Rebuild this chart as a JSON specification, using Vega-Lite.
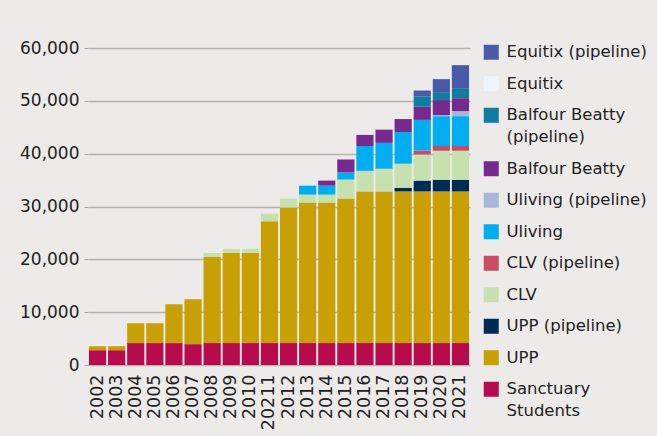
{
  "$schema": "https://vega.github.io/schema/vega-lite/v6.json",
  "autosize": {"type": "none"},
  "width": 382,
  "height": 317,
  "padding": {"left": 88, "top": 48, "right": 187, "bottom": 71},
  "background": "#ECEBE9",
  "config": {"view": {"stroke": null}},
  "data": {"values": [
    {"year": "2002", "company": "Sanctuary Students", "units": 2800},
    {"year": "2003", "company": "Sanctuary Students", "units": 2800},
    {"year": "2004", "company": "Sanctuary Students", "units": 4150},
    {"year": "2005", "company": "Sanctuary Students", "units": 4150},
    {"year": "2006", "company": "Sanctuary Students", "units": 4150},
    {"year": "2007", "company": "Sanctuary Students", "units": 3950},
    {"year": "2008", "company": "Sanctuary Students", "units": 4150},
    {"year": "2009", "company": "Sanctuary Students", "units": 4150},
    {"year": "2010", "company": "Sanctuary Students", "units": 4150},
    {"year": "2011", "company": "Sanctuary Students", "units": 4150},
    {"year": "2012", "company": "Sanctuary Students", "units": 4150},
    {"year": "2013", "company": "Sanctuary Students", "units": 4150},
    {"year": "2014", "company": "Sanctuary Students", "units": 4150},
    {"year": "2015", "company": "Sanctuary Students", "units": 4150},
    {"year": "2016", "company": "Sanctuary Students", "units": 4150},
    {"year": "2017", "company": "Sanctuary Students", "units": 4150},
    {"year": "2018", "company": "Sanctuary Students", "units": 4150},
    {"year": "2019", "company": "Sanctuary Students", "units": 4150},
    {"year": "2020", "company": "Sanctuary Students", "units": 4150},
    {"year": "2021", "company": "Sanctuary Students", "units": 4150},
    {"year": "2002", "company": "UPP", "units": 750},
    {"year": "2003", "company": "UPP", "units": 750},
    {"year": "2004", "company": "UPP", "units": 3750},
    {"year": "2005", "company": "UPP", "units": 3750},
    {"year": "2006", "company": "UPP", "units": 7350},
    {"year": "2007", "company": "UPP", "units": 8500},
    {"year": "2008", "company": "UPP", "units": 16300},
    {"year": "2009", "company": "UPP", "units": 17050},
    {"year": "2010", "company": "UPP", "units": 17050},
    {"year": "2011", "company": "UPP", "units": 23050},
    {"year": "2012", "company": "UPP", "units": 25650},
    {"year": "2013", "company": "UPP", "units": 26600},
    {"year": "2014", "company": "UPP", "units": 26600},
    {"year": "2015", "company": "UPP", "units": 27350},
    {"year": "2016", "company": "UPP", "units": 28700},
    {"year": "2017", "company": "UPP", "units": 28700},
    {"year": "2018", "company": "UPP", "units": 28700},
    {"year": "2019", "company": "UPP", "units": 28700},
    {"year": "2020", "company": "UPP", "units": 28700},
    {"year": "2021", "company": "UPP", "units": 28700},
    {"year": "2018", "company": "UPP (pipeline)", "units": 700},
    {"year": "2019", "company": "UPP (pipeline)", "units": 2050},
    {"year": "2020", "company": "UPP (pipeline)", "units": 2200},
    {"year": "2021", "company": "UPP (pipeline)", "units": 2200},
    {"year": "2008", "company": "CLV", "units": 750},
    {"year": "2009", "company": "CLV", "units": 750},
    {"year": "2010", "company": "CLV", "units": 750},
    {"year": "2011", "company": "CLV", "units": 1450},
    {"year": "2012", "company": "CLV", "units": 1700},
    {"year": "2013", "company": "CLV", "units": 1500},
    {"year": "2014", "company": "CLV", "units": 1500},
    {"year": "2015", "company": "CLV", "units": 3600},
    {"year": "2016", "company": "CLV", "units": 3900},
    {"year": "2017", "company": "CLV", "units": 4300},
    {"year": "2018", "company": "CLV", "units": 4550},
    {"year": "2019", "company": "CLV", "units": 4950},
    {"year": "2020", "company": "CLV", "units": 5500},
    {"year": "2021", "company": "CLV", "units": 5500},
    {"year": "2019", "company": "CLV (pipeline)", "units": 750},
    {"year": "2020", "company": "CLV (pipeline)", "units": 900},
    {"year": "2021", "company": "CLV (pipeline)", "units": 900},
    {"year": "2013", "company": "Uliving", "units": 1700},
    {"year": "2014", "company": "Uliving", "units": 1700},
    {"year": "2015", "company": "Uliving", "units": 1350},
    {"year": "2016", "company": "Uliving", "units": 4700},
    {"year": "2017", "company": "Uliving", "units": 4900},
    {"year": "2018", "company": "Uliving", "units": 6000},
    {"year": "2019", "company": "Uliving", "units": 5800},
    {"year": "2020", "company": "Uliving", "units": 5650},
    {"year": "2021", "company": "Uliving", "units": 5650},
    {"year": "2020", "company": "Uliving (pipeline)", "units": 200},
    {"year": "2021", "company": "Uliving (pipeline)", "units": 950},
    {"year": "2014", "company": "Balfour Beatty", "units": 950},
    {"year": "2015", "company": "Balfour Beatty", "units": 2450},
    {"year": "2016", "company": "Balfour Beatty", "units": 2100},
    {"year": "2017", "company": "Balfour Beatty", "units": 2500},
    {"year": "2018", "company": "Balfour Beatty", "units": 2450},
    {"year": "2019", "company": "Balfour Beatty", "units": 2500},
    {"year": "2020", "company": "Balfour Beatty", "units": 2850},
    {"year": "2021", "company": "Balfour Beatty", "units": 2450},
    {"year": "2019", "company": "Balfour Beatty (pipeline)", "units": 1900},
    {"year": "2020", "company": "Balfour Beatty (pipeline)", "units": 1500},
    {"year": "2021", "company": "Balfour Beatty (pipeline)", "units": 1900},
    {"year": "2019", "company": "Equitix (pipeline)", "units": 1150},
    {"year": "2020", "company": "Equitix (pipeline)", "units": 2450},
    {"year": "2021", "company": "Equitix (pipeline)", "units": 4350}
  ]},
  "transform": [
    {"calculate": "indexof(['Equitix (pipeline)', 'Equitix', 'Balfour Beatty (pipeline)', 'Balfour Beatty', 'Uliving (pipeline)', 'Uliving', 'CLV (pipeline)', 'CLV', 'UPP (pipeline)', 'UPP', 'Sanctuary Students'], datum.company)", "as": "stackRank"}
  ],
  "mark": {"type": "bar"},
  "encoding": {
    "x": {
      "field": "year", "type": "ordinal",
      "scale": {"paddingInner": 0.1, "paddingOuter": 0.05},
      "axis": {
        "title": null, "domain": false, "ticks": false, "labelAngle": -90,
        "labelPadding": 9, "labelFont": "DejaVu Sans", "labelFontSize": 17.5, "labelColor": "#222222",
        "labelExpr": "datum.value == '2011' ? '20211' : datum.value"
      }
    },
    "y": {
      "field": "units", "type": "quantitative", "stack": "zero",
      "scale": {"domain": [0, 60000], "nice": false},
      "axis": {
        "title": null, "domain": false, "values": [0, 10000, 20000, 30000, 40000, 50000, 60000],
        "format": ",d", "tickSize": 4, "tickColor": "#A8A8A8", "labelPadding": 5,
        "labelFont": "DejaVu Sans", "labelFontSize": 17, "labelColor": "#222222",
        "gridColor": "#B3B3B3", "gridWidth": 1.5
      }
    },
    "color": {
      "field": "company", "type": "nominal",
      "scale": {
        "domain": ["Equitix (pipeline)", "Equitix", "Balfour Beatty (pipeline)", "Balfour Beatty", "Uliving (pipeline)", "Uliving", "CLV (pipeline)", "CLV", "UPP (pipeline)", "UPP", "Sanctuary Students"],
        "range": ["#4A5AA8", "#EEF6FC", "#0E7DA0", "#772A8E", "#A6B9DB", "#00AEEF", "#C84B63", "#C6E0AE", "#002B55", "#C8A005", "#B80B4D"]
      },
      "legend": {
        "title": null, "orient": "none", "legendX": 395, "legendY": -4, "padding": 0,
        "symbolType": "square", "symbolSize": 225, "symbolStrokeWidth": 0, "symbolOpacity": 1,
        "labelFont": "DejaVu Sans", "labelFontSize": 16.5, "labelColor": "#222222", "labelOffset": 7,
        "rowPadding": 14.5, "labelLimit": 200,
        "labelExpr": "datum.label == 'Balfour Beatty (pipeline)' ? ['Balfour Beatty', '(pipeline)'] : datum.label == 'Sanctuary Students' ? ['Sanctuary', 'Students'] : datum.label",
        "encode": {"labels": {"update": {"lineHeight": {"value": 22}}}}
      }
    },
    "order": {"field": "stackRank", "type": "quantitative", "sort": "descending"}
  }
}
